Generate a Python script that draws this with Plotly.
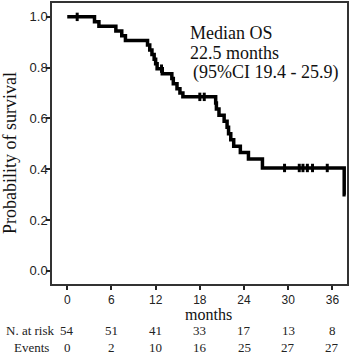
import plotly.graph_objects as go

# Kaplan-Meier step curve (month, survival)
km_months = [0, 3.7, 4.3, 6.6, 7.4, 7.9, 10.9, 11.2, 11.5, 11.8, 12.0, 12.2, 12.9,
             14.2, 14.4, 14.9, 15.3, 15.7, 20.15, 20.25, 20.6, 21.3, 21.7, 21.9,
             22.2, 22.6, 23.5, 24.6, 26.5, 37.6, 37.8]
km_surv = [1.000, 0.981, 0.963, 0.944, 0.926, 0.907, 0.889, 0.870, 0.852, 0.833,
           0.815, 0.796, 0.776, 0.757, 0.737, 0.717, 0.700, 0.685, 0.661, 0.637,
           0.613, 0.589, 0.565, 0.540, 0.516, 0.491, 0.466, 0.440, 0.405, 0.300, 0.300]

# censored observations
cens_months = [1.35, 12.8, 18.0, 18.6, 29.5, 31.5, 32.0, 32.6, 33.3, 35.3]
cens_surv = [1.000, 0.796, 0.685, 0.685, 0.405, 0.405, 0.405, 0.405, 0.405, 0.405]

# risk table
table_months = [0, 6, 12, 18, 24, 30, 36]
n_at_risk = [54, 51, 41, 33, 17, 13, 8]
events = [0, 2, 10, 16, 25, 27, 27]

y_ticks = [0.0, 0.2, 0.4, 0.6, 0.8, 1.0]

fig = go.Figure()
fig.add_trace(go.Scatter(x=km_months, y=km_surv, mode="lines",
                         line=dict(color="black", width=3.5, shape="hv"),
                         hoverinfo="skip", showlegend=False))
fig.add_trace(go.Scatter(x=cens_months, y=cens_surv, mode="markers",
                         marker=dict(symbol="line-ns-open", size=6, color="black",
                                     line=dict(color="black", width=3)),
                         hoverinfo="skip", showlegend=False))

serif = "Liberation Serif, Times New Roman, serif"
sans = "Liberation Sans, Arial, sans-serif"

PL, PT, PW, PH = 52, 1, 296, 283


def px(x):
    return (x - PL) / PW


def py(y):
    return (PT + PH - y) / PH


anns = []
for m, n, e in zip(table_months, n_at_risk, events):
    anns.append(dict(x=m, y=py(330.5), xref="x", yref="paper", text=str(n),
                     showarrow=False, xanchor="center", yanchor="middle",
                     font=dict(family=serif, size=13, color="#222")))
    anns.append(dict(x=m, y=py(347.5), xref="x", yref="paper", text=str(e),
                     showarrow=False, xanchor="center", yanchor="middle",
                     font=dict(family=serif, size=13, color="#222")))
anns.append(dict(x=px(30), y=py(330.5), xref="paper", yref="paper", text="N. at risk",
                 showarrow=False, xanchor="center", yanchor="middle",
                 font=dict(family=serif, size=13, color="#222")))
anns.append(dict(x=px(31), y=py(347.5), xref="paper", yref="paper", text="Events",
                 showarrow=False, xanchor="center", yanchor="middle",
                 font=dict(family=serif, size=13, color="#222")))
anns.append(dict(x=px(209), y=py(314.5), xref="paper", yref="paper", text="months",
                 showarrow=False, xanchor="center", yanchor="middle",
                 font=dict(family=serif, size=16, color="#111")))
anns.append(dict(x=px(10), y=py(152), xref="paper", yref="paper",
                 text="Probability of survival", textangle=-90,
                 showarrow=False, xanchor="center", yanchor="middle",
                 font=dict(family=serif, size=18, color="#111")))
for txt, yc, xl in [("Median OS", 31, 188), ("22.5 months", 51, 188),
                    ("(95%CI 19.4 - 25.9)", 71, 191)]:
    anns.append(dict(x=px(xl), y=py(yc), xref="paper",
                     yref="paper", text=txt, showarrow=False, xanchor="left",
                     yanchor="middle", font=dict(family=serif, size=18, color="#111")))

fig.update_layout(
    width=350, height=356,
    margin=dict(l=PL, r=350 - PL - PW, t=PT, b=356 - PT - PH),
    paper_bgcolor="white", plot_bgcolor="white",
    annotations=anns,
    xaxis=dict(range=[-2.07, 37.98], tickvals=table_months,
               ticks="outside", ticklen=4, tickwidth=1.5, tickcolor="#222",
               showline=True, linecolor="#333", linewidth=1.5, mirror=True,
               showgrid=False, zeroline=False,
               tickfont=dict(family=sans, size=12, color="#222")),
    yaxis=dict(range=[-0.0519, 1.0546], tickvals=y_ticks, tickformat=".1f",
               ticks="outside", ticklen=4, tickwidth=1.5, tickcolor="#222",
               showline=True, linecolor="#333", linewidth=1.5, mirror=True,
               showgrid=False, zeroline=False, ticklabelstandoff=-4,
               tickfont=dict(family=sans, size=13, color="#222")),
)

fig.write_html("out.html", config={"displayModeBar": False},
               post_script="document.body.style.margin='0';")
